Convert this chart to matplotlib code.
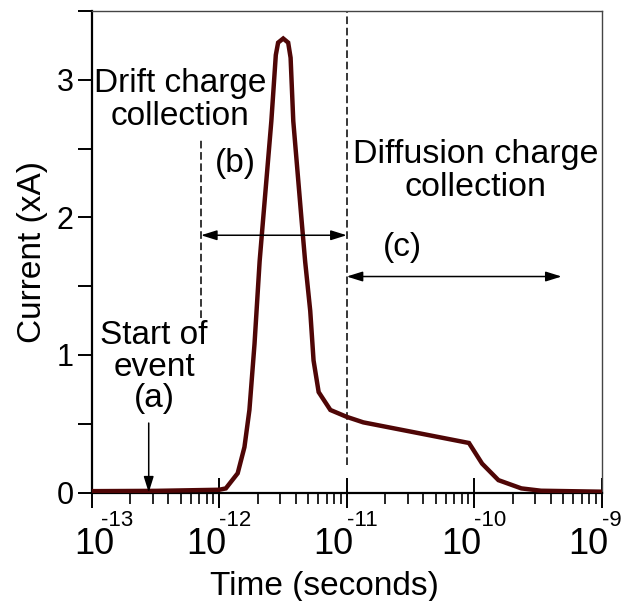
import numpy as np
import matplotlib.pyplot as plt
from matplotlib.ticker import FixedLocator, LogLocator, NullFormatter

plt.rcParams['font.family'] = ['Liberation Sans', 'DejaVu Sans']

# Transient current of a single event (log10 of time in seconds, current in xA)
log_time = [-13.0, -12.5, -12.0, -11.948, -11.855, -11.802, -11.763, -11.723,
            -11.683, -11.657, -11.591, -11.556, -11.538, -11.498, -11.459,
            -11.440, -11.419, -11.353, -11.326, -11.286, -11.260, -11.220,
            -11.128, -11.0, -10.87, -10.041, -9.938, -9.81, -9.63, -9.476, -9.0]
current = [0.01, 0.012, 0.02, 0.03, 0.14, 0.33, 0.60, 1.08,
           1.68, 1.97, 2.70, 3.18, 3.27, 3.30, 3.27,
           3.16, 2.70, 1.97, 1.68, 1.32, 0.96, 0.73,
           0.60, 0.55, 0.51, 0.36, 0.21, 0.09, 0.03, 0.013, 0.006]

decades = [-13, -12, -11, -10, -9]
y_ticks = [0, 0.5, 1, 1.5, 2, 2.5, 3, 3.5]
y_labels = ['0', '', '1', '', '2', '', '3', '']

# Phase markers
t_event = 2.8e-13
t_drift = 7.2e-13
t_diffusion = 1e-11
t_diff_end = 4.85e-10

time = 10.0 ** np.array(log_time)

fig = plt.figure(figsize=(6.23, 6.01), dpi=100)
ax = fig.add_axes([0.1472, 0.1805, 0.8186, 0.8012])

ax.plot(time, current, color='#4f0606', lw=3.2, solid_joinstyle='miter', zorder=3)

ax.set_xscale('log')
ax.set_xlim(1e-13, 1e-9)
ax.set_ylim(0, 3.5)

# Boundaries between drift and diffusion collection
dash = (0, (5, 2.4))
ax.plot([t_drift, t_drift], [1.27, 2.56], color='black', lw=1.1, ls=dash)
ax.plot([t_diffusion, t_diffusion], [0.2, 3.5], color='black', lw=1.1, ls=dash)

arrow = dict(arrowstyle='<|-|>,head_length=0.8,head_width=0.25', color='black',
             lw=1.1, shrinkA=0, shrinkB=0, mutation_scale=12)
ax.annotate('', xy=(t_drift, 1.87), xytext=(t_diffusion, 1.87), arrowprops=arrow)
ax.annotate('', xy=(t_diffusion, 1.57), xytext=(t_diff_end, 1.57), arrowprops=arrow)
ax.annotate('', xy=(t_event, 0.0), xytext=(t_event, 0.505),
            arrowprops=dict(arrowstyle='-|>,head_length=0.8,head_width=0.25',
                            color='black', lw=1.1, shrinkA=0, shrinkB=0,
                            mutation_scale=12))

fs = 24
ax.text(4.93e-13, 2.85, 'Drift charge\ncollection', fontsize=fs, ha='center',
        va='center', linespacing=1.08)
ax.text(1.33e-12, 2.39, '(b)', fontsize=fs, ha='center', va='center')
ax.text(1.03e-10, 2.34, 'Diffusion charge\ncollection', fontsize=24.5,
        ha='center', va='center', linespacing=1.08)
ax.text(2.75e-11, 1.78, '(c)', fontsize=fs, ha='center', va='center')
ax.text(3.08e-13, 0.91, 'Start of\nevent\n(a)', fontsize=fs, ha='center',
        va='center', linespacing=1.02)

ax.set_xlabel('Time (seconds)', fontsize=fs)
ax.xaxis.set_label_coords(0.4555, -0.163)
ax.set_ylabel('Current (xA)', fontsize=fs, labelpad=6)

ax.xaxis.set_major_locator(FixedLocator([10.0 ** d for d in decades]))
ax.xaxis.set_major_formatter(NullFormatter())
ax.xaxis.set_minor_locator(LogLocator(base=10, subs=np.arange(2, 10), numticks=10))
ax.xaxis.set_minor_formatter(NullFormatter())
ax.set_yticks(y_ticks)
ax.set_yticklabels(y_labels)

# Powers of ten with a raised, small exponent
for d in decades:
    base_dx, exp_dx = (23, 9) if d == -13 else (7, 0)
    ax.annotate('10', xy=(10.0 ** d, 0), xycoords=('data', 'axes fraction'),
                xytext=(base_dx, -61), textcoords='offset pixels',
                ha='right', va='baseline', fontsize=26, annotation_clip=False)
    ax.annotate(f'-{abs(d)}', xy=(10.0 ** d, 0), xycoords=('data', 'axes fraction'),
                xytext=(exp_dx, -33), textcoords='offset pixels',
                ha='left', va='baseline', fontsize=16, annotation_clip=False)

ax.tick_params(axis='x', which='major', direction='inout', length=22, width=1.4)
ax.tick_params(axis='x', which='minor', direction='out', length=8, width=1.2)
ax.tick_params(axis='y', which='major', direction='out', length=10, width=1.4,
               labelsize=22, pad=3)

for side in ('left', 'bottom'):
    ax.spines[side].set_linewidth(1.6)
for side in ('top', 'right'):
    ax.spines[side].set_linewidth(1.0)
    ax.spines[side].set_color('#444444')

fig.savefig('out.png', dpi=100)
